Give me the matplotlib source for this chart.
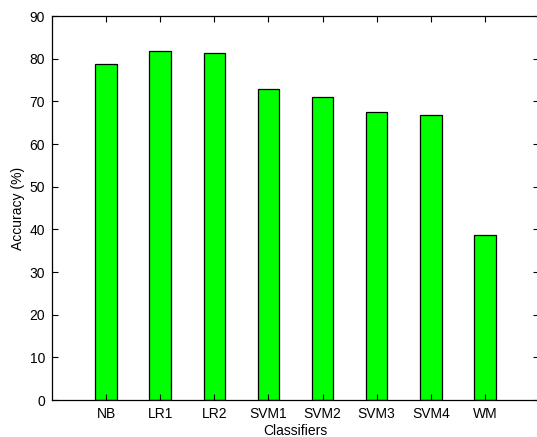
import numpy as np
import matplotlib.pyplot as plt

plt.rcParams['font.family'] = ['Liberation Sans', 'DejaVu Sans']

classifiers = ['NB', 'LR1', 'LR2', 'SVM1', 'SVM2', 'SVM3', 'SVM4', 'WM']
accuracy = [78.7, 81.7, 81.3, 72.9, 70.9, 67.4, 66.9, 38.7]

fig = plt.figure(figsize=(5.37, 4.37), dpi=100)
# right edge of the box sits just past the canvas edge
ax = fig.add_axes([52/537, 37/437, 487/537, 384/437])

x = np.arange(1, len(classifiers) + 1)
ax.bar(x, accuracy, width=0.4, color='#00ff00', edgecolor='black', linewidth=0.9)

ax.set_xlim(0, 9)
ax.set_ylim(0, 90)
ax.set_xticks(x)
ax.set_xticklabels(classifiers)
ax.set_yticks(np.arange(0, 91, 10))
ax.tick_params(direction='in', top=True, right=True, length=4, width=0.8,
               labelsize=10, pad=5)
for s in ax.spines.values():
    s.set_linewidth(0.9)

ax.set_xlabel('Classifiers', fontsize=10, labelpad=2)
ax.set_ylabel('Accuracy (%)', fontsize=10, labelpad=3)

fig.savefig('out.png', dpi=100)
